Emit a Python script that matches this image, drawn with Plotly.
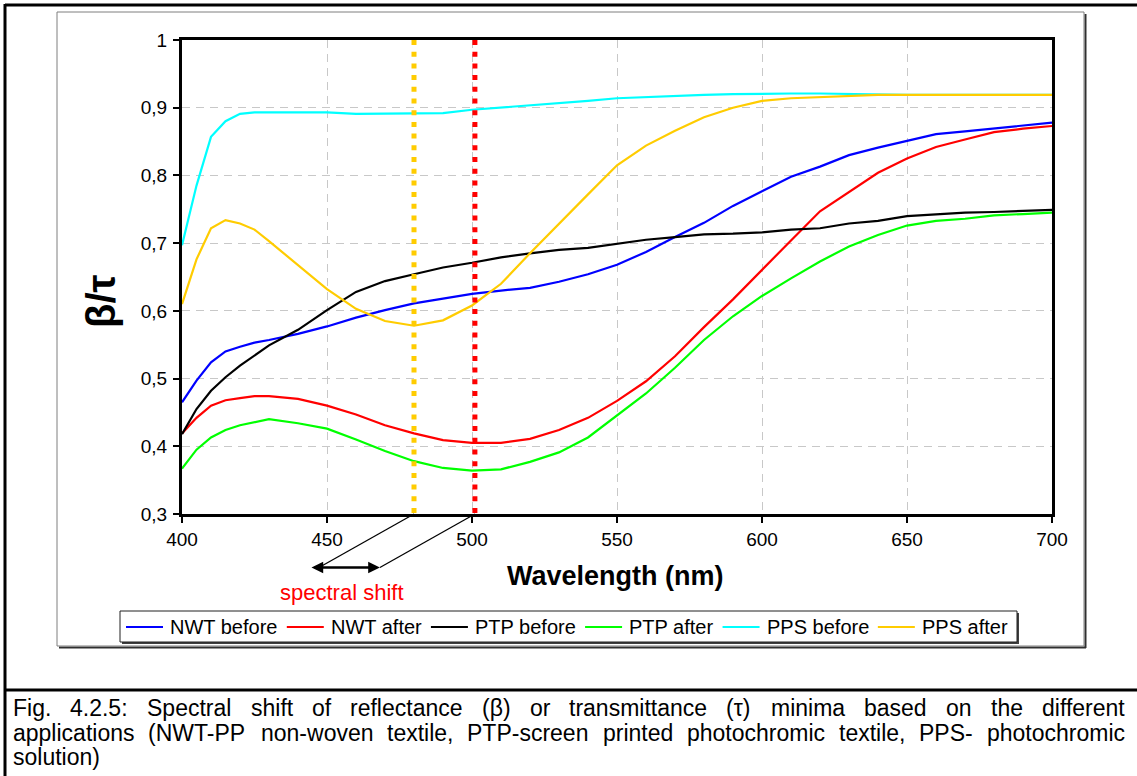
import plotly.graph_objects as go

# ---- data -------------------------------------------------------------
wavelength = [400, 405, 410, 415, 420, 425, 430, 440, 450, 460, 470, 480, 490,
              500, 510, 520, 530, 540, 550, 560, 570, 580, 590, 600, 610, 620,
              630, 640, 650, 660, 670, 680, 690, 700]

nwt_before = [0.465, 0.497, 0.524, 0.540, 0.547, 0.553, 0.557, 0.566, 0.577, 0.590,
              0.601, 0.611, 0.618, 0.625, 0.630, 0.634, 0.643, 0.654, 0.668, 0.687,
              0.709, 0.730, 0.755, 0.777, 0.798, 0.813, 0.830, 0.841, 0.851, 0.861,
              0.865, 0.869, 0.873, 0.878]
nwt_after = [0.419, 0.442, 0.460, 0.468, 0.471, 0.474, 0.474, 0.470, 0.460, 0.447,
             0.431, 0.419, 0.409, 0.405, 0.405, 0.411, 0.424, 0.442, 0.467, 0.496,
             0.533, 0.576, 0.617, 0.661, 0.704, 0.747, 0.775, 0.804, 0.825, 0.842,
             0.853, 0.864, 0.869, 0.873]
ptp_before = [0.418, 0.455, 0.482, 0.502, 0.519, 0.534, 0.549, 0.572, 0.601, 0.628,
              0.644, 0.654, 0.664, 0.671, 0.679, 0.685, 0.690, 0.693, 0.699, 0.705,
              0.709, 0.713, 0.714, 0.716, 0.720, 0.722, 0.729, 0.733, 0.740, 0.743,
              0.745, 0.746, 0.747, 0.749]
ptp_after = [0.367, 0.395, 0.413, 0.424, 0.431, 0.436, 0.440, 0.434, 0.426, 0.410,
             0.393, 0.378, 0.368, 0.364, 0.366, 0.377, 0.391, 0.413, 0.445, 0.478,
             0.516, 0.557, 0.592, 0.622, 0.648, 0.673, 0.695, 0.712, 0.726, 0.733,
             0.736, 0.741, 0.743, 0.745]
pps_before = [0.697, 0.785, 0.857, 0.880, 0.891, 0.893, 0.893, 0.893, 0.893, 0.891,
              0.891, 0.891, 0.892, 0.897, 0.900, 0.903, 0.906, 0.910, 0.914, 0.916,
              0.918, 0.919, 0.920, 0.921, 0.921, 0.921, 0.920, 0.919, 0.919, 0.919,
              0.919, 0.919, 0.919, 0.919]
pps_after = [0.610, 0.676, 0.722, 0.734, 0.729, 0.720, 0.703, 0.667, 0.632, 0.603,
             0.585, 0.578, 0.586, 0.608, 0.640, 0.685, 0.729, 0.772, 0.815, 0.844,
             0.866, 0.886, 0.900, 0.910, 0.914, 0.916, 0.918, 0.919, 0.919, 0.919,
             0.919, 0.919, 0.919, 0.919]

series_names = ["NWT before", "NWT after", "PTP before", "PTP after", "PPS before", "PPS after"]
series_values = [nwt_before, nwt_after, ptp_before, ptp_after, pps_before, pps_after]
series_colors = ["#0000FF", "#FF0000", "#000000", "#00FF00", "#00FFFF", "#FFCC00"]

# wavelengths of the minima (PPS after, NWT/PTP after)
min_pps = 480
min_textile = 501

x_range = [400, 700]
y_range = [0.3, 1.0]
x_ticks = [400, 450, 500, 550, 600, 650, 700]
y_ticks = [0.3, 0.4, 0.5, 0.6, 0.7, 0.8, 0.9, 1.0]

caption_lines = [
    "Fig. 4.2.5: Spectral shift of reflectance (β) or transmittance (τ) minima based on the different",
    "applications (NWT-PP non-woven textile, PTP-screen printed photochromic textile, PPS- photochromic",
    "solution)",
]

# ---- page geometry ----------------------------------------------------
W, H = 1137, 776
ML, MR, MT, MB = 182, 85, 40, 262
PW, PH = W - ML - MR, H - MT - MB
FONT = "Arial, Liberation Sans, sans-serif"


def px_x(px):
    return (px - ML) / PW


def px_y(py):
    return (H - MB - py) / PH


def data_x(v):
    return (v - x_range[0]) / (x_range[1] - x_range[0])


# Arial advance widths (1/1000 em) for laying out text runs
CHAR_W = {
    'a': 556, 'b': 556, 'c': 500, 'd': 556, 'e': 556, 'f': 278, 'g': 556, 'h': 556,
    'i': 222, 'j': 222, 'k': 500, 'l': 222, 'm': 833, 'n': 556, 'o': 556, 'p': 556,
    'q': 556, 'r': 333, 's': 500, 't': 278, 'u': 556, 'v': 500, 'w': 722, 'x': 500,
    'y': 500, 'z': 500, 'F': 611, 'N': 722, 'P': 667, 'S': 667, 'T': 611, 'W': 944,
    '.': 278, ',': 278, ':': 278, '(': 333, ')': 333, '-': 333, ' ': 278,
    'β': 575, 'τ': 440,
}


def text_width(s, size):
    return sum(CHAR_W.get(c, 556) for c in s) * size / 1000


fig = go.Figure()

for name, vals, col in zip(series_names, series_values, series_colors):
    fig.add_trace(go.Scatter(x=wavelength, y=vals, name=name, mode="lines",
                             showlegend=False,
                             line=dict(color=col, width=2.2)))

# dotted markers of the minima
for wl, col in [(min_pps, "#FFCC00"), (min_textile, "#FF0000")]:
    fig.add_trace(go.Scatter(x=[wl, wl], y=[y_range[1], y_range[0]], mode="lines",
                             showlegend=False, hoverinfo="skip",
                             line=dict(color=col, width=5, dash="5px,6.7px")))

shapes = []
annotations = []

# outer page frame
shapes.append(dict(type="line", xref="paper", yref="paper", x0=px_x(5), x1=px_x(W + 5),
                   y0=px_y(5), y1=px_y(5), line=dict(color="black", width=3)))
shapes.append(dict(type="line", xref="paper", yref="paper", x0=px_x(5), x1=px_x(5),
                   y0=px_y(4), y1=px_y(H + 5), line=dict(color="black", width=3)))
shapes.append(dict(type="line", xref="paper", yref="paper", x0=px_x(5), x1=px_x(W + 5),
                   y0=px_y(690), y1=px_y(690), line=dict(color="black", width=3)))
# chart area frame with shadow
shapes.append(dict(type="line", xref="paper", yref="paper", x0=px_x(59), x1=px_x(1086),
                   y0=px_y(647.5), y1=px_y(647.5), line=dict(color="#303030", width=2)))
shapes.append(dict(type="line", xref="paper", yref="paper", x0=px_x(1085.5), x1=px_x(1085.5),
                   y0=px_y(14), y1=px_y(648), line=dict(color="#303030", width=2)))
shapes.append(dict(type="rect", xref="paper", yref="paper", x0=px_x(57), x1=px_x(1084),
                   y0=px_y(12), y1=px_y(646), line=dict(color="#7F7F7F", width=1)))

# legend box drawn as a single row of entries
LEG_SIZE = 20
LEG_LEFT, LEG_RIGHT, LEG_TOP, LEG_BOTTOM = 120, 1017, 611, 642
leg_mid = (LEG_TOP + LEG_BOTTOM) / 2 + 0.5
shapes.append(dict(type="line", xref="paper", yref="paper", x0=px_x(LEG_LEFT + 2),
                   x1=px_x(LEG_RIGHT + 1.5), y0=px_y(LEG_BOTTOM + 1), y1=px_y(LEG_BOTTOM + 1),
                   line=dict(color="#404040", width=2)))
shapes.append(dict(type="line", xref="paper", yref="paper", x0=px_x(LEG_RIGHT + 1),
                   x1=px_x(LEG_RIGHT + 1), y0=px_y(LEG_TOP + 2), y1=px_y(LEG_BOTTOM + 2),
                   line=dict(color="#404040", width=2)))
shapes.append(dict(type="rect", xref="paper", yref="paper", x0=px_x(LEG_LEFT),
                   x1=px_x(LEG_RIGHT), y0=px_y(LEG_TOP), y1=px_y(LEG_BOTTOM),
                   fillcolor="white", line=dict(color="#202020", width=1)))
x = LEG_LEFT + 6
for name, col in zip(series_names, series_colors):
    shapes.append(dict(type="line", xref="paper", yref="paper", x0=px_x(x), x1=px_x(x + 37),
                       y0=px_y(leg_mid), y1=px_y(leg_mid), line=dict(color=col, width=2.2)))
    tx = x + 43
    annotations.append(dict(xref="paper", yref="paper", x=px_x(tx), y=px_y(leg_mid),
                            xanchor="left", yanchor="middle", text=name, showarrow=False,
                            borderpad=0, font=dict(family=FONT, size=LEG_SIZE, color="black")))
    x = tx + text_width(name, LEG_SIZE) + 10

# spectral shift connectors
drop = 53.5
slant = 95
for wl in (min_pps, min_textile):
    x0 = data_x(wl)
    shapes.append(dict(type="line", xref="paper", yref="paper",
                       x0=x0, y0=0, x1=x0 - slant / PW, y1=-drop / PH,
                       line=dict(color="black", width=1.3)))

end_left = data_x(min_pps) - slant / PW - 9 / PW
end_right = data_x(min_textile) - slant / PW
annotations.append(dict(xref="paper", yref="paper", x=end_right, y=-drop / PH,
                        ax=-(end_right - end_left) * PW, ay=0,
                        text="", showarrow=True, arrowside="end+start", arrowhead=2,
                        arrowsize=0.9, arrowwidth=2.6, arrowcolor="black",
                        standoff=0, startstandoff=0))
annotations.append(dict(xref="paper", yref="paper", x=px_x(342), y=px_y(592),
                        xanchor="center", yanchor="middle",
                        text="spectral shift", showarrow=False,
                        font=dict(family=FONT, size=22, color="#FF0000")))
annotations.append(dict(xref="paper", yref="paper", x=px_x(615), y=px_y(576),
                        xanchor="center", yanchor="middle",
                        text="<b>Wavelength (nm)</b>", showarrow=False,
                        font=dict(family=FONT, size=27, color="black")))
annotations.append(dict(xref="paper", yref="paper", x=px_x(101), y=px_y(301),
                        xanchor="center", yanchor="middle",
                        text="<b>β/τ</b>", showarrow=False, textangle=-90,
                        font=dict(family=FONT, size=40, color="black")))

# justified caption, placed word by word
CAP_SIZE = 23
CAP_LEFT, CAP_RIGHT = 12, 1124
cap_rows = [708, 733, 757]

for i, (line, row) in enumerate(zip(caption_lines, cap_rows)):
    words = line.split(" ")
    widths = [text_width(w, CAP_SIZE) for w in words]
    last = i == len(caption_lines) - 1
    if last or len(words) == 1:
        gap = text_width(" ", CAP_SIZE)
    else:
        gap = (CAP_RIGHT - CAP_LEFT - sum(widths)) / (len(words) - 1)
    x = CAP_LEFT
    for w, wd in zip(words, widths):
        annotations.append(dict(xref="paper", yref="paper", x=px_x(x), y=px_y(row),
                                xanchor="left", yanchor="middle", text=w,
                                showarrow=False, borderpad=0,
                                font=dict(family=FONT, size=CAP_SIZE, color="black")))
        x += wd + gap

fig.update_layout(
    width=W, height=H,
    margin=dict(l=ML, r=MR, t=MT, b=MB),
    paper_bgcolor="white", plot_bgcolor="white",
    separators=",.",
    font=dict(family=FONT, color="black"),
    showlegend=False,
    shapes=shapes,
    annotations=annotations,
)

fig.update_xaxes(range=x_range, tickvals=x_ticks, showgrid=True, gridcolor="#C8C8C8",
                 gridwidth=1, griddash="8px,6px", showline=True, linecolor="black",
                 linewidth=3, mirror=True, ticks="outside", ticklen=6, tickwidth=1.5,
                 tickcolor="black", tickfont=dict(family=FONT, size=19, color="black"),
                 zeroline=False, ticklabelstandoff=0)
fig.update_yaxes(range=y_range, tickvals=y_ticks, showgrid=True, gridcolor="#C8C8C8",
                 gridwidth=1, griddash="8px,6px", showline=True, linecolor="black",
                 linewidth=3, mirror=True, ticks="outside", ticklen=6, tickwidth=1.5,
                 tickcolor="black", tickfont=dict(family=FONT, size=19, color="black"),
                 zeroline=False, ticklabelstandoff=2)

fig.write_html("out.html")
